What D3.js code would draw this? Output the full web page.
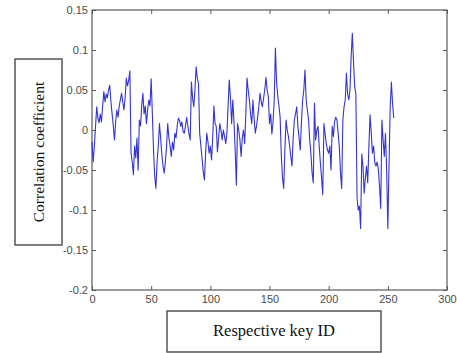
<!DOCTYPE html>
<html>
<head>
<meta charset="utf-8">
<script src="https://cdn.jsdelivr.net/npm/d3@7/dist/d3.min.js"></script>
<style>
  body { margin: 0; background: #fff; }
  svg { display: block; }
</style>
</head>
<body>
<div id="chart"></div>
<script>
const WIDTH = 457;
const HEIGHT = 353;

// correlation coefficient for each key ID (0..255)
const corr = [
  -0.015, -0.04, -0.02, 0.005, 0.029, 0.015, 0.009, 0.02, 0.01, 0.03,
  0.048, 0.035, 0.045, 0.04, 0.05, 0.056, 0.035, 0.02, 0.005, -0.0125,
  0.01, 0.025, 0.016, 0.03, 0.038, 0.046, 0.035, 0.025, 0.04, 0.065,
  0.055, 0.062, 0.074, -0.029, -0.04, -0.056, -0.02, -0.035, -0.01, -0.05,
  0.0125, 0.005, 0.03, 0.046, 0.02, 0.03, 0.008, 0.025, 0.0375, 0.03,
  0.064, 0.02, -0.025, -0.058, -0.073, -0.04, -0.02, 0.008, -0.01, -0.03,
  -0.045, -0.054, -0.04, -0.02, 0.008, -0.01, -0.02, -0.033, -0.015, -0.025,
  -0.004, -0.01, 0.005, 0.015, 0.012, 0.0046, 0.01, -0.002, -0.004, 0.005,
  0.016, 0.005, -0.005, -0.0125, 0.06, 0.04, 0.029, 0.05, 0.079, 0.065,
  0.058, -0.004, -0.02, -0.035, -0.052, -0.0625, -0.03, -0.004, -0.015, -0.029,
  -0.02, -0.0375, -0.01, 0.03, 0.008, 0.0046, -0.0275, -0.01, 0.008, 0.0,
  -0.0125, 0.0, -0.008, -0.017, -0.004, 0.03, 0.0625, 0.04, 0.008, 0.0375,
  0.01, -0.025, -0.069, 0.008, 0.0, -0.0125, -0.033, -0.01, 0.0, -0.017,
  0.02, 0.065, 0.05, 0.0375, 0.02, 0.008, 0.0375, 0.015, -0.004, 0.005,
  0.0158, 0.03, 0.0458, 0.035, 0.029, 0.04, 0.05, 0.066, 0.05, 0.0417,
  0.008, 0.02, -0.005, 0.01, 0.0375, 0.1025, 0.06, 0.042, 0.03, 0.0158,
  -0.033, -0.06, -0.073, -0.025, 0.0125, 0.0, -0.0083, -0.02, -0.033, -0.045,
  -0.01, 0.0125, 0.02, 0.029, 0.0046, -0.01, -0.025, 0.01, 0.0375, 0.05,
  0.075, 0.0375, 0.025, 0.0125, -0.0125, -0.03, -0.054, -0.066, 0.0333, -0.0125,
  0.0, 0.0046, -0.02, -0.041, -0.06, -0.081, 0.008, -0.005, -0.017, -0.025,
  -0.029, -0.02, -0.05, 0.0046, -0.008, 0.0104, 0.016, 0.0125, -0.004, -0.021,
  -0.054, -0.073, 0.0125, 0.029, 0.0375, 0.071, 0.045, 0.0375, 0.05, 0.092,
  0.121, 0.085, 0.054, 0.045, -0.085, -0.1, -0.095, -0.123, -0.03, -0.045,
  -0.079, -0.06, -0.045, -0.066, -0.02, 0.019, -0.004, -0.029, -0.02, -0.041,
  -0.045, -0.04, -0.05, -0.0708, -0.098, 0.0125, -0.0125, -0.033, -0.004, -0.05,
  -0.123, -0.045, 0.029, 0.06, 0.033, 0.015
];

const xTicks = [0, 50, 100, 150, 200, 250, 300];
const yTicks = [-0.2, -0.15, -0.1, -0.05, 0, 0.05, 0.1, 0.15];
const xDomain = [0, 300];
const yDomain = [-0.2, 0.15];

const xLabelText = 'Respective key ID';
const yLabelText = 'Correlation coefficient';

// plot box, matched to the reference
const plot = { left: 92, top: 10, right: 447, bottom: 290 };

const svg = d3.select('#chart')
  .append('svg')
  .attr('width', WIDTH)
  .attr('height', HEIGHT);

const x = d3.scaleLinear().domain(xDomain).range([plot.left, plot.right]);
const y = d3.scaleLinear().domain(yDomain).range([plot.bottom, plot.top]);

const tickFmt = (d) => (d === 0 ? '0' : String(+d.toFixed(2)));
const AXIS_COLOR = '#5a5a5a';
const TEXT_COLOR = '#4a4a4a';

// axes (ticks point inward like MATLAB)
const styleAxis = (g) => {
  g.select('.domain').remove();
  g.selectAll('.tick line').attr('stroke', AXIS_COLOR);
  g.selectAll('.tick text')
    .attr('fill', TEXT_COLOR)
    .style('font-family', 'Liberation Sans, Arial, sans-serif')
    .style('font-size', '11px');
};

svg.append('g')
  .attr('transform', `translate(0,${plot.bottom})`)
  .call(d3.axisBottom(x).tickValues(xTicks).tickFormat(tickFmt).tickSizeInner(-4).tickPadding(5))
  .call(styleAxis);

svg.append('g')
  .attr('transform', `translate(${plot.left},0)`)
  .call(d3.axisLeft(y).tickValues(yTicks).tickFormat(tickFmt).tickSizeInner(-4).tickPadding(4))
  .call(styleAxis);

svg.append('g')
  .attr('transform', `translate(0,${plot.top})`)
  .call(d3.axisTop(x).tickValues(xTicks).tickFormat('').tickSizeInner(-4))
  .call(styleAxis);

svg.append('g')
  .attr('transform', `translate(${plot.right},0)`)
  .call(d3.axisRight(y).tickValues(yTicks).tickFormat('').tickSizeInner(-4))
  .call(styleAxis);

// box
svg.append('rect')
  .attr('x', plot.left)
  .attr('y', plot.top)
  .attr('width', plot.right - plot.left)
  .attr('height', plot.bottom - plot.top)
  .attr('fill', 'none')
  .attr('stroke', AXIS_COLOR)
  .attr('stroke-width', 1.2);

// the series
const line = d3.line()
  .x((d, i) => x(i))
  .y((d) => y(d));

svg.append('path')
  .datum(corr)
  .attr('fill', 'none')
  .attr('stroke', '#3434d2')
  .attr('stroke-width', 1.1)
  .attr('stroke-linejoin', 'round')
  .attr('d', line);

// y label in its own box
svg.append('rect')
  .attr('x', 15).attr('y', 59)
  .attr('width', 47).attr('height', 186)
  .attr('fill', '#fff')
  .attr('stroke', '#555')
  .attr('stroke-width', 1.5);

svg.append('text')
  .attr('transform', 'translate(44,152) rotate(-90)')
  .attr('text-anchor', 'middle')
  .attr('fill', '#111')
  .style('font-family', 'Liberation Serif, Times New Roman, serif')
  .style('font-size', '15.5px')
  .text(yLabelText);

// x label in its own box
svg.append('rect')
  .attr('x', 167).attr('y', 311)
  .attr('width', 214).attr('height', 41)
  .attr('fill', '#fff')
  .attr('stroke', '#555')
  .attr('stroke-width', 1.5);

svg.append('text')
  .attr('x', 274)
  .attr('y', 336)
  .attr('text-anchor', 'middle')
  .attr('fill', '#111')
  .style('font-family', 'Liberation Serif, Times New Roman, serif')
  .style('font-size', '16.5px')
  .text(xLabelText);
</script>
</body>
</html>
